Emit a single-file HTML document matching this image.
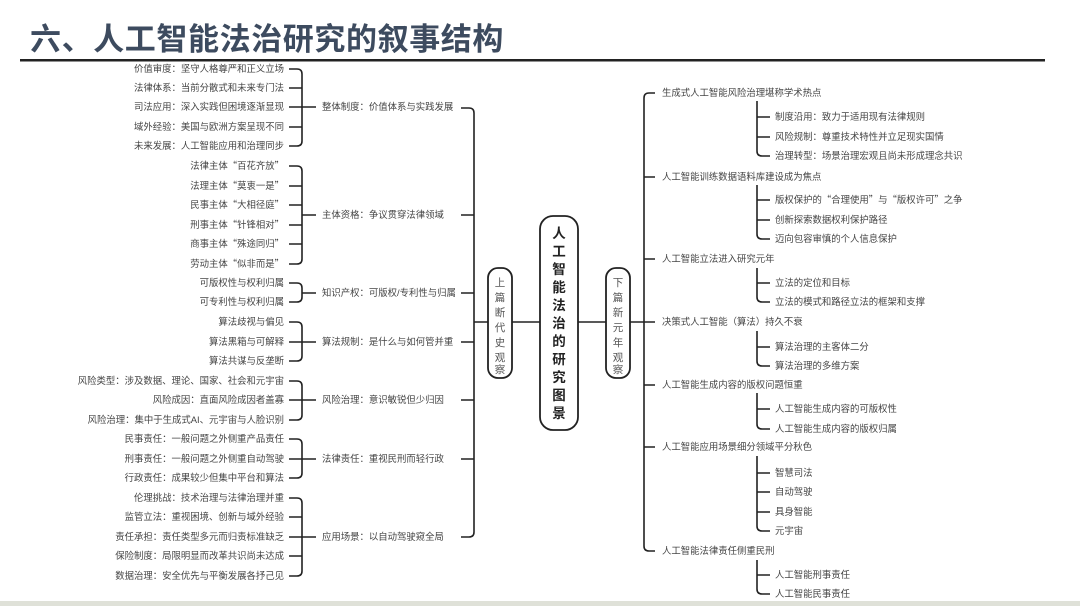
<!DOCTYPE html>
<html><head><meta charset="utf-8"><style>
html,body{margin:0;padding:0;background:#fff;}
body{width:1080px;height:606px;overflow:hidden;position:relative;}
svg{position:absolute;left:0;top:0;}
text{font-family:"Liberation Sans","Noto Sans CJK SC",sans-serif;}
.cjk{font-family:"Noto Sans CJK SC",sans-serif;}
</style></head><body>
<svg width="1080" height="606" viewBox="0 0 1080 606" xmlns="http://www.w3.org/2000/svg">
<rect x="0" y="601" width="1080" height="5" fill="#dfe1d8"/>
<text x="30" y="50" font-size="31" font-weight="bold" fill="#3d4b5f" letter-spacing="0.6" class="cjk">六、人工智能法治研究的叙事结构</text>
<rect x="20" y="59" width="1025" height="2.5" fill="#222"/>
<g fill="none" stroke="#222" stroke-width="1.6">
<path d="M289,69 H297 Q302,69 302,74 V141 Q302,146 297,146 H289 M289,88 H302 M289,107 H316 M289,127 H302"/>
<path d="M289,166 H297 Q302,166 302,171 V259 Q302,264 297,264 H289 M289,186 H302 M289,205 H302 M289,225 H302 M289,244 H302 M302,215 H316"/>
<path d="M289,283 H297 Q302,283 302,288 V297 Q302,302 297,302 H289 M302,293 H316"/>
<path d="M289,322 H297 Q302,322 302,327 V356 Q302,361 297,361 H289 M289,342 H316"/>
<path d="M289,381 H297 Q302,381 302,386 V415 Q302,420 297,420 H289 M289,400 H316"/>
<path d="M289,439 H297 Q302,439 302,444 V473 Q302,478 297,478 H289 M289,459 H316"/>
<path d="M289,498 H297 Q302,498 302,503 V571 Q302,576 297,576 H289 M289,517 H302 M289,537 H316 M289,556 H302"/>
<path d="M461,108 H469 Q474,108 474,113 V532 Q474,537 469,537 H461 M461,215 H474 M461,293 H474 M461,342 H474 M461,400 H474 M461,459 H474 M474,322 H488"/>
<path d="M512,322 H540 M578,322 H606 M630,322 H655"/>
<path d="M655,93 H649 Q644,93 644,98 V546 Q644,551 649,551 H655 M644,177 H655 M644,259 H655 M644,385 H655 M644,447 H655"/>
<path d="M757,101 V151 Q757,156 762,156 H770 M757,117 H770 M757,137 H770"/>
<path d="M757,185 V234 Q757,239 762,239 H770 M757,200 H770 M757,220 H770"/>
<path d="M757,268 V297 Q757,302 762,302 H770 M757,283 H770"/>
<path d="M757,331 V361 Q757,366 762,366 H770 M757,347 H770"/>
<path d="M757,393 V424 Q757,429 762,429 H770 M757,409 H770"/>
<path d="M757,456 V526 Q757,531 762,531 H770 M757,473 H770 M757,492 H770 M757,512 H770"/>
<path d="M757,560 V589 Q757,594 762,594 H770 M757,575 H770"/>
<rect x="488" y="268" width="24" height="110" rx="10" stroke-width="1.8"/>
<rect x="540" y="216" width="38" height="214" rx="13" stroke-width="1.8"/>
<rect x="606" y="268" width="24" height="110" rx="10" stroke-width="1.8"/>
</g>
<g font-size="9.4" fill="#444" text-anchor="end">
<text x="284" y="72">价值审度：坚守人格尊严和正义立场</text>
<text x="284" y="91">法律体系：当前分散式和未来专门法</text>
<text x="284" y="110">司法应用：深入实践但困境逐渐显现</text>
<text x="284" y="130">域外经验：美国与欧洲方案呈现不同</text>
<text x="284" y="149">未来发展：人工智能应用和治理同步</text>
<text x="284" y="169" class="cjk">法律主体“百花齐放”</text>
<text x="284" y="189" class="cjk">法理主体“莫衷一是”</text>
<text x="284" y="208" class="cjk">民事主体“大相径庭”</text>
<text x="284" y="228" class="cjk">刑事主体“针锋相对”</text>
<text x="284" y="247" class="cjk">商事主体“殊途同归”</text>
<text x="284" y="267" class="cjk">劳动主体“似非而是”</text>
<text x="284" y="286">可版权性与权利归属</text>
<text x="284" y="305">可专利性与权利归属</text>
<text x="284" y="325">算法歧视与偏见</text>
<text x="284" y="345">算法黑箱与可解释</text>
<text x="284" y="364">算法共谋与反垄断</text>
<text x="284" y="384">风险类型：涉及数据、理论、国家、社会和元宇宙</text>
<text x="284" y="403">风险成因：直面风险成因者盖寡</text>
<text x="284" y="423">风险治理：集中于生成式AI、元宇宙与人脸识别</text>
<text x="284" y="442">民事责任：一般问题之外侧重产品责任</text>
<text x="284" y="462">刑事责任：一般问题之外侧重自动驾驶</text>
<text x="284" y="481">行政责任：成果较少但集中平台和算法</text>
<text x="284" y="501">伦理挑战：技术治理与法律治理并重</text>
<text x="284" y="520">监管立法：重视困境、创新与域外经验</text>
<text x="284" y="540">责任承担：责任类型多元而归责标准缺乏</text>
<text x="284" y="559">保险制度：局限明显而改革共识尚未达成</text>
<text x="284" y="579">数据治理：安全优先与平衡发展各抒己见</text>
</g>
<g font-size="9.4" fill="#444">
<text x="322" y="110">整体制度：价值体系与实践发展</text>
<text x="322" y="218">主体资格：争议贯穿法律领域</text>
<text x="322" y="296">知识产权：可版权/专利性与归属</text>
<text x="322" y="345">算法规制：是什么与如何管并重</text>
<text x="322" y="403">风险治理：意识敏锐但少归因</text>
<text x="322" y="462">法律责任：重视民刑而轻行政</text>
<text x="322" y="540">应用场景：以自动驾驶窥全局</text>
<text x="662" y="96">生成式人工智能风险治理堪称学术热点</text>
<text x="775" y="120">制度沿用：致力于适用现有法律规则</text>
<text x="775" y="140">风险规制：尊重技术特性并立足现实国情</text>
<text x="775" y="159">治理转型：场景治理宏观且尚未形成理念共识</text>
<text x="662" y="180">人工智能训练数据语料库建设成为焦点</text>
<text x="775" y="203" class="cjk">版权保护的“合理使用”与“版权许可”之争</text>
<text x="775" y="223">创新探索数据权利保护路径</text>
<text x="775" y="242">迈向包容审慎的个人信息保护</text>
<text x="662" y="262">人工智能立法进入研究元年</text>
<text x="775" y="286">立法的定位和目标</text>
<text x="775" y="305">立法的模式和路径立法的框架和支撑</text>
<text x="662" y="325">决策式人工智能（算法）持久不衰</text>
<text x="775" y="350">算法治理的主客体二分</text>
<text x="775" y="369">算法治理的多维方案</text>
<text x="662" y="388">人工智能生成内容的版权问题恒重</text>
<text x="775" y="412">人工智能生成内容的可版权性</text>
<text x="775" y="432">人工智能生成内容的版权归属</text>
<text x="662" y="450">人工智能应用场景细分领域平分秋色</text>
<text x="775" y="476">智慧司法</text>
<text x="775" y="495">自动驾驶</text>
<text x="775" y="515">具身智能</text>
<text x="775" y="534">元宇宙</text>
<text x="662" y="554">人工智能法律责任侧重民刑</text>
<text x="775" y="578">人工智能刑事责任</text>
<text x="775" y="597">人工智能民事责任</text>
</g>
<g font-size="10.5" fill="#555" text-anchor="middle">
<text x="500" y="286">上</text><text x="500" y="301">篇</text><text x="500" y="316">断</text><text x="500" y="331">代</text><text x="500" y="346">史</text><text x="500" y="361">观</text><text x="500" y="373">察</text>
<text x="618" y="286">下</text><text x="618" y="301">篇</text><text x="618" y="316">新</text><text x="618" y="331">元</text><text x="618" y="346">年</text><text x="618" y="361">观</text><text x="618" y="373">察</text>
</g>
<g font-size="13.5" fill="#222" font-weight="bold" text-anchor="middle">
<text x="559" y="238">人</text><text x="559" y="256">工</text><text x="559" y="274">智</text><text x="559" y="292">能</text><text x="559" y="310">法</text><text x="559" y="328">治</text><text x="559" y="346">的</text><text x="559" y="364">研</text><text x="559" y="382">究</text><text x="559" y="400">图</text><text x="559" y="418">景</text>
</g>
</svg>
</body></html>
